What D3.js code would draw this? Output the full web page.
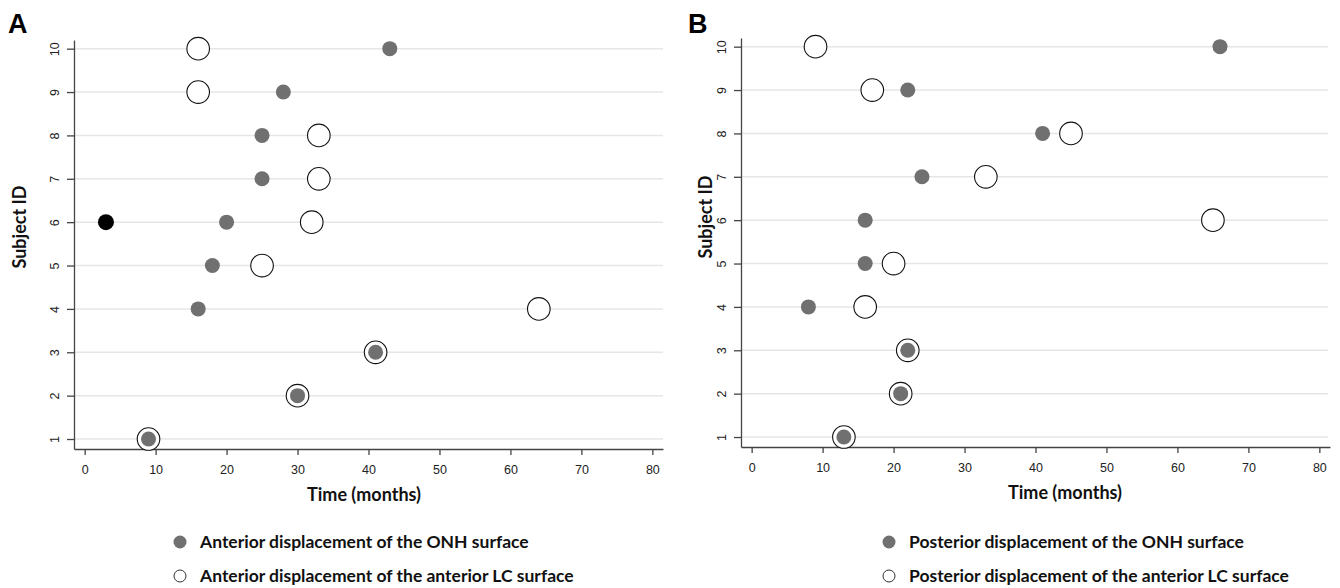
<!DOCTYPE html>
<html>
<head>
<meta charset="utf-8">
<script src="https://cdn.jsdelivr.net/npm/d3@7"></script>
<style>
  body { margin: 0; background: #fff; }
  svg { display: block; }
</style>
</head>
<body>
<script>
var w = 1340, h = 588;

// subject IDs (rows) and x ticks
var subjects = [1, 2, 3, 4, 5, 6, 7, 8, 9, 10];
var timeTicks = [0, 10, 20, 30, 40, 50, 60, 70, 80];

// panel A: anterior displacement, time in months per subject
var onhA = [9, 30, 41, 16, 18, 20, 25, 25, 28, 43];
var lcA  = [9, 30, 41, 64, 25, 32, 33, 33, 16, 16];
var blackA = [[6, 3]];   // [subject, month]

// panel B: posterior displacement
var onhB = [13, 21, 22, 8, 16, 16, 24, 41, 22, 66];
var lcB  = [13, 21, 22, 16, 20, 65, 33, 45, 17, 9];

var legendA = ["Anterior displacement of the ONH surface", "Anterior displacement of the anterior LC surface"];
var legendB = ["Posterior displacement of the ONH surface", "Posterior displacement of the anterior LC surface"];

var grey = "#707070";
var labelFont = "Lato, 'Open Sans', sans-serif";
var tickFont = "'Liberation Sans', Arial, sans-serif";

var svg = d3.select("body")
  .append("svg")
  .attr("width", w)
  .attr("height", h);

svg.append("rect").attr("width", w).attr("height", h).attr("fill", "#fff");

function panel(opt) {
  var g = svg.append("g");

  var x = d3.scaleLinear().domain([-1.5, 81.5]).range([opt.left, opt.left + 589]);
  var y = d3.scaleLinear().domain([0.77, 10.2]).range([opt.bottom, opt.bottom - 409]);

  // grid
  g.selectAll("line.grid")
    .data(subjects)
    .enter().append("line")
    .attr("class", "grid")
    .attr("x1", x.range()[0])
    .attr("x2", opt.gridEnd)
    .attr("y1", d => y(d))
    .attr("y2", d => y(d))
    .attr("stroke", "#e6e6e6")
    .attr("stroke-width", 1.5);

  var yAxis = d3.axisLeft(y).tickValues(subjects).tickSize(7).tickSizeOuter(0);
  var ya = g.append("g")
    .attr("transform", `translate(${opt.left},0)`)
    .call(yAxis);
  // rotate each tick label about its own position
  ya.selectAll(".tick text")
    .attr("transform", "translate(-19,0) rotate(-90)")
    .attr("x", 0)
    .attr("y", 0)
    .attr("dy", "0.35em")
    .style("text-anchor", "middle");

  var xAxis = d3.axisBottom(x).tickValues(timeTicks).tickSize(6).tickSizeOuter(0);
  var xa = g.append("g")
    .attr("transform", `translate(0,${opt.bottom})`)
    .call(xAxis);
  xa.selectAll(".tick text").attr("dy", "1.25em");

  [ya, xa].forEach(a => {
    a.selectAll("path, line").attr("stroke", "#444").attr("stroke-width", 1.3);
    a.selectAll("text").attr("fill", "#222").attr("font-family", tickFont).attr("font-size", "12.5px");
  });

  // open circles (anterior LC) first, gray dots on top
  g.selectAll("circle.lc")
    .data(opt.lc)
    .enter().append("circle")
    .attr("class", "lc")
    .attr("cx", d => x(d))
    .attr("cy", (d, i) => y(subjects[i]))
    .attr("r", 11.3)
    .attr("fill", "#fff")
    .attr("stroke", "#111")
    .attr("stroke-width", 1.1);

  g.selectAll("circle.onh")
    .data(opt.onh)
    .enter().append("circle")
    .attr("class", "onh")
    .attr("cx", d => x(d))
    .attr("cy", (d, i) => y(subjects[i]))
    .attr("r", 7.5)
    .attr("fill", grey);

  g.selectAll("circle.blk")
    .data(opt.black)
    .enter().append("circle")
    .attr("class", "blk")
    .attr("cx", d => x(d[1]))
    .attr("cy", d => y(d[0]))
    .attr("r", 8)
    .attr("fill", "#000");

  // axis titles
  g.append("text")
    .text("Time (months)")
    .attr("x", opt.xTitle)
    .attr("y", opt.bottom + 52)
    .attr("text-anchor", "middle")
    .attr("font-family", labelFont)
    .attr("font-weight", "bold")
    .attr("font-size", "18px")
    .attr("fill", "#111");

  g.append("text")
    .text("Subject ID")
    .attr("transform", `translate(${opt.yTitleX},${opt.yTitleY}) rotate(-90)`)
    .attr("text-anchor", "middle")
    .attr("font-family", labelFont)
    .attr("font-weight", "bold")
    .attr("font-size", "18px")
    .attr("fill", "#111");

  // panel letter
  g.append("text")
    .text(opt.letter)
    .attr("x", opt.letterX)
    .attr("y", 33)
    .attr("font-family", "'Liberation Sans', Arial, sans-serif")
    .attr("font-weight", "bold")
    .attr("font-size", "27px")
    .attr("fill", "#000");

  // legend
  var lg = g.append("g");
  opt.legend.forEach((t, i) => {
    var cy = 542 + i * 34;
    lg.append("circle")
      .attr("cx", opt.legX)
      .attr("cy", cy)
      .attr("r", i === 0 ? 6.5 : 6)
      .attr("fill", i === 0 ? grey : "#fff")
      .attr("stroke", i === 0 ? "none" : "#333")
      .attr("stroke-width", 1);
    lg.append("text")
      .text(t)
      .attr("x", opt.legX + 20)
      .attr("y", cy + 6)
      .attr("font-family", labelFont)
      .attr("font-weight", "bold")
      .attr("font-size", "17.5px")
      .attr("fill", "#111");
  });
}

panel({
  left: 74, bottom: 449, gridEnd: 663,
  onh: onhA, lc: lcA, black: blackA,
  xTitle: 364, yTitleX: 26, yTitleY: 227,
  letter: "A", letterX: 8,
  legend: legendA, legX: 180
});

panel({
  left: 741, bottom: 447, gridEnd: 1328,
  onh: onhB, lc: lcB, black: [],
  xTitle: 1065, yTitleX: 712, yTitleY: 217,
  letter: "B", letterX: 688,
  legend: legendB, legX: 889
});
</script>
</body>
</html>
